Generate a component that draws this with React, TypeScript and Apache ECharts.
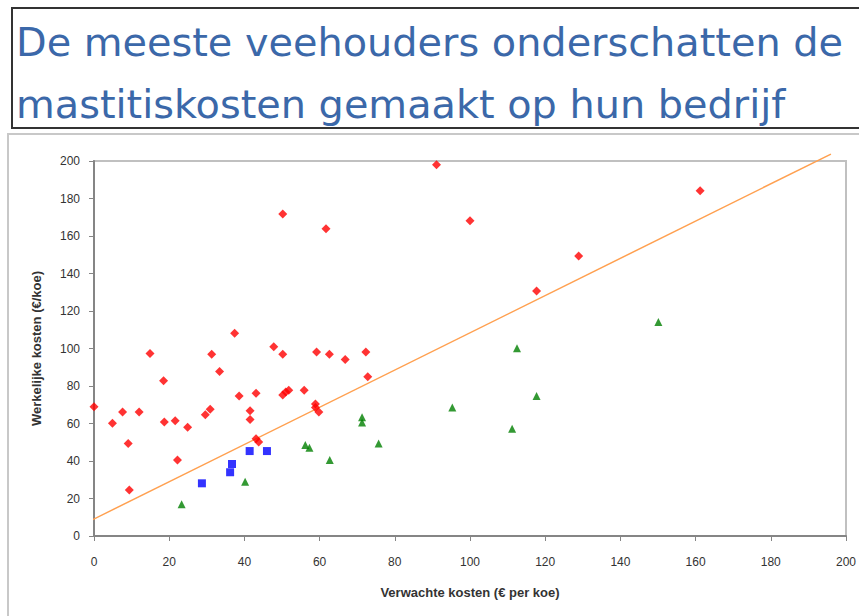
import React, { useEffect, useRef } from "react";
import * as echarts from "echarts";

const titleLines = [
  "De meeste veehouders onderschatten de",
  "mastitiskosten gemaakt op hun bedrijf",
];
const xAxisName = "Verwachte kosten (€ per koe)";
const yAxisName = "Werkelijke kosten (€/koe)";

const redPoints: [number, number][] = [
  [0, 69], [4.9, 60.1], [7.6, 66.1], [9.1, 49.4], [9.4, 24.5], [12, 66.1],
  [14.9, 97.4], [18.5, 82.8], [18.7, 60.8], [21.6, 61.5], [22.2, 40.5],
  [24.9, 58], [29.6, 64.7], [30.9, 67.6], [31.3, 96.9], [33.4, 87.8],
  [37.4, 108.1], [38.6, 74.7], [41.5, 66.8], [41.5, 62.2], [43.1, 76.1],
  [43.1, 51.9], [43.8, 50.1], [47.8, 101], [50.2, 96.9], [50.2, 75.2],
  [51, 76.8], [51.8, 77.7], [55.9, 77.7], [58.9, 70.4], [58.9, 68.6],
  [59.8, 66.1], [59.2, 98.1], [62.6, 96.9], [66.8, 94.2], [72.3, 98.1],
  [72.8, 85], [50.2, 171.7], [61.7, 163.9], [91.1, 198], [100, 168.2],
  [128.9, 149.3], [117.7, 130.7], [161.2, 184.2],
];
const bluePoints: [number, number][] = [
  [28.7, 28.1], [36.2, 34], [36.7, 38.4], [41.4, 45.3], [46, 45.3],
];
const greenPoints: [number, number][] = [
  [23.3, 16.9], [40.2, 29], [56.2, 48.5], [57.3, 47.1], [62.7, 40.5],
  [71.3, 63.3], [71.3, 60.6], [75.7, 49.4], [95.3, 68.6], [112.5, 100.1],
  [111.2, 57.2], [117.7, 74.7], [150.1, 114.1],
];
const referenceLine: [number, number][] = [
  [-2.7, 6.4],
  [196, 203.7],
];

export default function App() {
  const ref = useRef<HTMLDivElement>(null);
  useEffect(() => {
    document.body.style.margin = "0";
    const chart = echarts.init(ref.current!, undefined, { renderer: "svg" });
    const axisFont = "Liberation Sans";
    chart.setOption({
      animation: false,
      backgroundColor: "#ffffff",
      graphic: [
        {
          type: "rect",
          shape: { x: 12, y: 8, width: 900, height: 120 },
          style: { fill: "none", stroke: "#333333", lineWidth: 2 },
          z: 0,
        },
        {
          type: "rect",
          shape: { x: 8, y: 134, width: 900, height: 520 },
          style: { fill: "none", stroke: "#c8c8c8", lineWidth: 2 },
          z: 0,
        },
        {
          type: "text",
          x: 16,
          y: 42,
          style: {
            text: titleLines[0],
            font: '39.8px "DejaVu Sans"',
            fill: "#3b68a9",
            verticalAlign: "middle",
          },
        },
        {
          type: "text",
          x: 16,
          y: 104,
          style: {
            text: titleLines[1],
            font: '39.8px "DejaVu Sans"',
            fill: "#3b68a9",
            verticalAlign: "middle",
          },
        },
      ],
      grid: {
        left: 94,
        right: 13,
        top: 161,
        bottom: 80,
        show: true,
        borderColor: "#c0c0c0",
        borderWidth: 2,
      },
      xAxis: {
        type: "value",
        min: 0,
        max: 200,
        interval: 20,
        name: xAxisName,
        nameLocation: "middle",
        nameGap: 50,
        nameTextStyle: { fontFamily: axisFont, fontWeight: "bold", fontSize: 13, color: "#333" },
        axisLine: { show: true, lineStyle: { color: "#858585", width: 2 } },
        axisTick: { show: true, length: 5, lineStyle: { color: "#858585" } },
        axisLabel: { margin: 20, fontFamily: axisFont, fontSize: 12, color: "#333" },
        splitLine: { show: false },
      },
      yAxis: {
        type: "value",
        min: 0,
        max: 200,
        interval: 20,
        name: yAxisName,
        nameLocation: "middle",
        nameGap: 51,
        nameTextStyle: { fontFamily: axisFont, fontWeight: "bold", fontSize: 13, color: "#333" },
        axisLine: { show: true, lineStyle: { color: "#858585", width: 2 } },
        axisTick: { show: true, length: 5, lineStyle: { color: "#858585" } },
        axisLabel: { margin: 14, fontFamily: axisFont, fontSize: 12, color: "#333" },
        splitLine: { show: false },
      },
      series: [
        {
          type: "line",
          data: referenceLine,
          clip: false,
          symbol: "none",
          lineStyle: { color: "#ffa050", width: 1.5 },
          z: 1,
        },
        {
          type: "scatter",
          data: redPoints,
          symbol: "diamond",
          symbolSize: 9,
          itemStyle: { color: "#ff0000" },
          z: 3,
        },
        {
          type: "scatter",
          data: bluePoints,
          symbol: "rect",
          symbolSize: 8,
          itemStyle: { color: "#0000ff" },
          z: 3,
        },
        {
          type: "scatter",
          data: greenPoints,
          symbol: "triangle",
          symbolSize: 8,
          itemStyle: { color: "#008000" },
          z: 3,
        },
      ],
    });
    return () => chart.dispose();
  }, []);
  return (
    <div
      ref={ref}
      style={{ position: "absolute", left: 0, top: 0, width: 859, height: 616 }}
    />
  );
}
